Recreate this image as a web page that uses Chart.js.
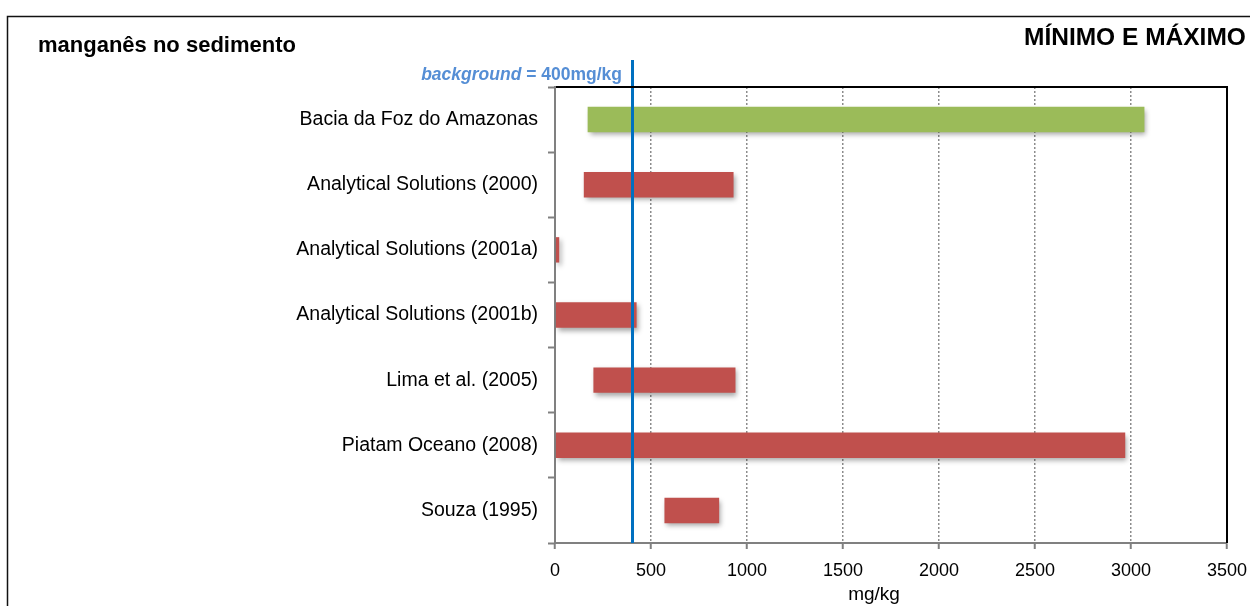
<!DOCTYPE html>
<html>
<head>
<meta charset="utf-8">
<script src="https://cdn.jsdelivr.net/npm/chart.js@4/dist/chart.umd.min.js"></script>
<style>
  html, body { margin: 0; padding: 0; background: #fff; }
  canvas { display: block; }
</style>
</head>
<body>
<canvas id="chart" width="1250" height="606"></canvas>
<script>
// Manganese in sediment: minimum and maximum per study (mg/kg)
const categories = [
  'Bacia da Foz do Amazonas',
  'Analytical Solutions (2000)',
  'Analytical Solutions (2001a)',
  'Analytical Solutions (2001b)',
  'Lima et al. (2005)',
  'Piatam Oceano (2008)',
  'Souza (1995)'
];
const minValues = [170, 150, 5, 5, 200, 5, 570];
const maxValues = [3070, 930, 22, 425, 940, 2970, 855];
const barColors = ['#9BBB59', '#C0504D', '#C0504D', '#C0504D', '#C0504D', '#C0504D', '#C0504D'];
const xTickValues = [0, 500, 1000, 1500, 2000, 2500, 3000, 3500];
const backgroundValue = 400;
const unitLabel = 'mg/kg';
const chartTitle = 'manganês no sedimento';
const cornerTitle = 'MÍNIMO E MÁXIMO';

const FONT = "'Liberation Sans', Arial, Helvetica, sans-serif";
Chart.defaults.font.family = FONT;
Chart.defaults.color = '#000';

const ranges = categories.map((c, i) => [minValues[i], maxValues[i]]);

// soft drop shadow under the bars
const barShadow = {
  id: 'barShadow',
  beforeDatasetsDraw(chart) {
    const ctx = chart.ctx;
    ctx.save();
    ctx.shadowColor = 'rgba(0,0,0,0.35)';
    ctx.shadowBlur = 5;
    ctx.shadowOffsetX = 2;
    ctx.shadowOffsetY = 3;
  },
  afterDatasetsDraw(chart) {
    chart.ctx.restore();
  }
};

// reference line, frame, titles and axis unit
const decorations = {
  id: 'decorations',
  afterDatasetsDraw(chart) {
    const ctx = chart.ctx;
    const xs = chart.scales.x;
    const area = chart.chartArea;
    const bx = Math.round(xs.getPixelForValue(backgroundValue)) + 0.5;
    ctx.save();
    ctx.strokeStyle = '#0070C0';
    ctx.lineWidth = 3;
    ctx.beginPath();
    ctx.moveTo(bx, 60);
    ctx.lineTo(bx, area.bottom);
    ctx.stroke();
    ctx.restore();
  },
  afterDraw(chart) {
    const ctx = chart.ctx;
    const area = chart.chartArea;
    ctx.save();

    // plot box: top and right edges
    ctx.strokeStyle = '#000';
    ctx.lineWidth = 2;
    ctx.beginPath();
    ctx.moveTo(area.left + 1, area.top);
    ctx.lineTo(area.right, area.top);
    ctx.lineTo(area.right, area.bottom);
    ctx.stroke();

    // outer frame
    ctx.strokeStyle = '#111';
    ctx.lineWidth = 1.5;
    ctx.beginPath();
    ctx.moveTo(7.5, 606);
    ctx.lineTo(7.5, 16.5);
    ctx.lineTo(1250, 16.5);
    ctx.stroke();

    // titles
    ctx.fillStyle = '#000';
    ctx.textBaseline = 'alphabetic';
    ctx.textAlign = 'left';
    ctx.font = 'bold 22px ' + FONT;
    ctx.fillText(chartTitle, 38, 52);
    ctx.font = 'bold 24.5px ' + FONT;
    ctx.fillText(cornerTitle, 1024, 45);

    // background label, right-aligned next to the reference line
    const rest = ' = ' + backgroundValue + unitLabel;
    ctx.fillStyle = '#558ED5';
    ctx.textAlign = 'right';
    ctx.font = 'bold 17.5px ' + FONT;
    const restW = ctx.measureText(rest).width;
    ctx.fillText(rest, 622, 80);
    ctx.font = 'italic bold 17.5px ' + FONT;
    ctx.fillText('background', 622 - restW, 80);

    // x-axis unit
    ctx.fillStyle = '#000';
    ctx.textAlign = 'center';
    ctx.font = '19px ' + FONT;
    ctx.fillText(unitLabel, 874, 600);

    ctx.restore();
  }
};

new Chart(document.getElementById('chart'), {
  type: 'bar',
  data: {
    labels: categories,
    datasets: [{
      data: ranges,
      backgroundColor: barColors,
      borderWidth: 0,
      borderSkipped: false,
      barPercentage: 0.39,
      categoryPercentage: 1
    }]
  },
  options: {
    indexAxis: 'y',
    responsive: false,
    animation: false,
    events: [],
    layout: { padding: { top: 87, right: 23, left: 0, bottom: 0 } },
    plugins: {
      legend: { display: false },
      tooltip: { enabled: false },
      title: { display: false }
    },
    scales: {
      x: {
        type: 'linear',
        min: xTickValues[0],
        max: xTickValues[xTickValues.length - 1],
        afterBuildTicks(scale) {
          scale.ticks = xTickValues.map(v => ({ value: v }));
        },
        afterFit(scale) {
          scale.height = 63;
          scale.paddingLeft = 0;
          scale.paddingRight = 0;
        },
        ticks: {
          font: { size: 18 },
          color: '#000',
          padding: 11,
          callback: (v) => String(v)
        },
        grid: {
          color: (c) => (c.tick && (c.tick.value === 0 || c.tick.value === 3500)) ? 'rgba(0,0,0,0)' : '#8c8c8c',
          lineWidth: 1.5,
          tickColor: '#808080',
          tickLength: 6,
          tickWidth: 2,
          tickBorderDash: []
        },
        border: { color: '#808080', width: 2, dash: [2, 2] }
      },
      y: {
        type: 'category',
        afterFit(scale) { scale.width = 555; },
        ticks: {
          font: { size: 19.5 },
          color: '#000',
          padding: 10
        },
        grid: {
          drawOnChartArea: false,
          offset: true,
          tickLength: 7,
          tickColor: '#808080',
          tickWidth: 2
        },
        border: { color: '#808080', width: 2 }
      }
    }
  },
  plugins: [barShadow, decorations]
});
</script>
</body>
</html>
